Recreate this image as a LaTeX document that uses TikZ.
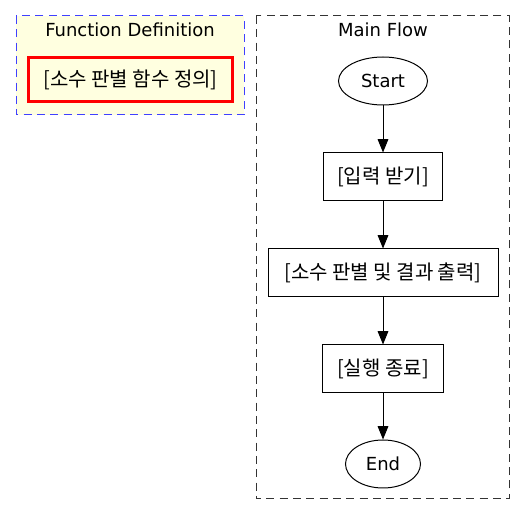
\documentclass[tikz,border=0pt]{standalone}
\usepackage{fontspec}
\setmainfont{DejaVu Sans}
\newfontfamily\kr{Noto Sans CJK KR}
\usetikzlibrary{shapes.geometric,arrows.meta}
\definecolor{clusterfill}{HTML}{FFFFE0}
\definecolor{clusterblue}{RGB}{64,64,255}

\begin{document}
\begin{tikzpicture}[x=0.75pt,y=-0.75pt,line width=0.75pt,
	every node/.style={font=\fontsize{13.5}{16}\selectfont},
	term/.style={draw,ellipse,minimum height=36pt,inner sep=0pt},
	stepbox/.style={draw,rectangle,minimum height=36pt,inner sep=0pt,font=\kr\fontsize{15}{18}\selectfont},
	flow/.style={-{Triangle[length=10pt,width=8pt]}},
	cluster/.style={dash pattern=on 6pt off 4pt}]
	\useasboundingbox (0,0) rectangle (525,516);
	\fill[white] (0,0) rectangle (525,516);
	% clusters
	\draw[cluster,fill=clusterfill,draw=clusterblue] (16,16) rectangle (244,115);
	\draw[cluster,draw=black!80] (256,16) rectangle (509,499);
	\node (deftitle) at (130,30) {Function Definition};
	\node (maintitle) at (383,30) {Main Flow};
	\node[stepbox,draw=red,line width=2.25pt,minimum width=153pt,minimum height=33pt] (isprime) at (130.5,79.5) {[소수 판별 함수 정의]};
	% main flow
	\node[term,minimum width=66.75pt] (start) at (383,81) {Start};
	\node[stepbox,minimum width=89.25pt] (input) at (383,177) {[입력 받기]};
	\node[stepbox,minimum width=172.5pt] (check) at (383,273) {[소수 판별 및 결과 출력]};
	\node[stepbox,minimum width=90.75pt] (quit) at (383,369) {[실행 종료]};
	\node[term,minimum width=56.25pt] (end) at (383,464) {End};
	\draw[flow] (start) -- (input);
	\draw[flow] (input) -- (check);
	\draw[flow] (check) -- (quit);
	\draw[flow] (quit) -- (end);
\end{tikzpicture}
\end{document}
